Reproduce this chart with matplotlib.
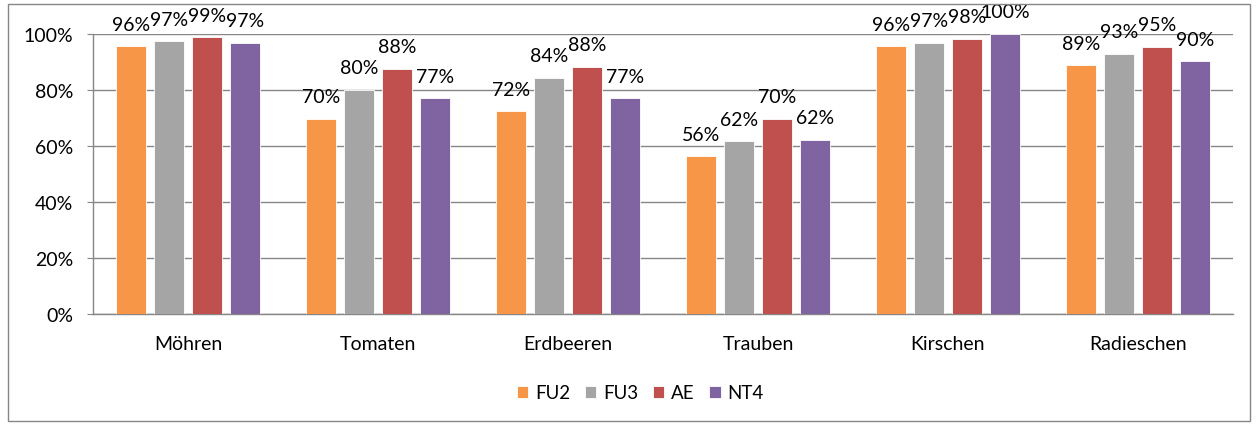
import matplotlib.pyplot as plt
import numpy as np
from matplotlib.patches import Rectangle

categories = ['Möhren', 'Tomaten', 'Erdbeeren', 'Trauben', 'Kirschen', 'Radieschen']
series = ['FU2', 'FU3', 'AE', 'NT4']
fu2 = [0.956, 0.698, 0.724, 0.563, 0.956, 0.888]
fu3 = [0.974, 0.801, 0.843, 0.617, 0.968, 0.929]
ae = [0.988, 0.876, 0.883, 0.698, 0.983, 0.954]
nt4 = [0.968, 0.770, 0.770, 0.622, 1.000, 0.902]
colors = ['#F79646', '#A5A5A5', '#C0504D', '#8064A2']

plt.rcParams['font.family'] = ['Lato', 'DejaVu Sans']
fs = 14

fig = plt.figure(figsize=(12.58, 4.27), dpi=100)
ax = fig.add_axes([93/1258, 1-315/427, 1140/1258, 280/427])

# Rahmen um das ganze Diagramm
fig.patches.append(Rectangle((8/1258, 5/427), 1242/1258, 417/427, transform=fig.transFigure,
                             fill=False, edgecolor='#868686', linewidth=1))

x = np.arange(len(categories))
offsets = [-0.3, -0.1, 0.1, 0.3]
for vals, name, col, off in zip([fu2, fu3, ae, nt4], series, colors, offsets):
    bars = ax.bar(x + off, vals, width=0.155, color=col, edgecolor='white', linewidth=0.6,
                  label=name, zorder=3)
    for b, v in zip(bars, vals):
        ax.annotate(f'{round(v*100):.0f}%', (b.get_x() + b.get_width()/2, v),
                    xytext=(0, 16), textcoords='offset points', ha='center', va='center',
                    fontsize=fs, color='#000000')

ax.set_xlim(-0.5, len(categories) - 0.5)
ax.set_ylim(0, 1)
ax.set_yticks(np.arange(0, 1.01, 0.2))
ax.set_yticklabels([f'{int(t*100)}%' for t in np.arange(0, 1.01, 0.2)])
ax.set_xticks(x)
ax.set_xticklabels(categories)
ax.yaxis.grid(True, color='#868686', linewidth=1, zorder=0)
ax.set_axisbelow(True)
for s in ['top', 'right']:
    ax.spines[s].set_visible(False)
for s in ['left', 'bottom']:
    ax.spines[s].set_color('#868686')
    ax.spines[s].set_linewidth(1)
ax.tick_params(axis='y', length=4.3, color='#868686', pad=10, labelsize=fs)
ax.tick_params(axis='x', length=0, pad=15, labelsize=fs)

fig.legend(loc='center', bbox_to_anchor=(0.509, 0.078), ncol=4, frameon=False,
           handlelength=0.6, handleheight=0.6, handletextpad=0.35, columnspacing=0.8, fontsize=13.5)

fig.savefig('out.png', dpi=100)
